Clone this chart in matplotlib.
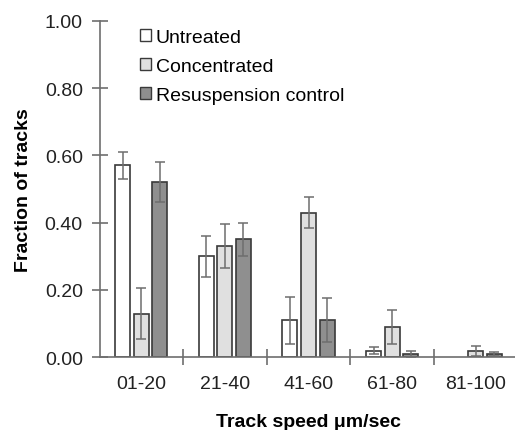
import numpy as np
import matplotlib
matplotlib.use("Agg")
import matplotlib.pyplot as plt
from matplotlib.patches import Patch

plt.rcParams['font.family'] = ['Liberation Sans', 'DejaVu Sans']

categories = ["01-20", "21-40", "41-60", "61-80", "81-100"]
series_names = ["Untreated", "Concentrated", "Resuspension control"]
untreated = [0.57, 0.30, 0.11, 0.02, np.nan]
untreated_err = [0.04, 0.06, 0.07, 0.01, 0.0]
concentrated = [0.13, 0.33, 0.43, 0.09, 0.02]
concentrated_err = [0.075, 0.065, 0.045, 0.05, 0.015]
resusp = [0.52, 0.35, 0.11, 0.01, 0.01]
resusp_err = [0.06, 0.05, 0.065, 0.01, 0.005]
yticks = [0.0, 0.2, 0.4, 0.6, 0.8, 1.0]

values = [untreated, concentrated, resusp]
errors = [untreated_err, concentrated_err, resusp_err]
fills = ["#ffffff", "#e0e0e0", "#8f8f8f"]

fig = plt.figure(figsize=(5.15, 4.31), dpi=100)
ax = fig.add_axes([99.5 / 515, 1 - 358.3 / 431, 418 / 515, (358.3 - 21.7) / 431])

x = np.arange(len(categories))
width = 0.18
step = 0.222
for i, (vals, errs, fc) in enumerate(zip(values, errors, fills)):
    pos = x + (i - 1) * step
    v = np.array(vals, dtype=float)
    e = np.array(errs, dtype=float)
    mask = ~np.isnan(v)
    ax.bar(pos[mask], v[mask], width=width, color=fc, edgecolor="#3a3a3a",
           linewidth=1.2, zorder=2)
    ax.errorbar(pos[mask], v[mask], yerr=e[mask], fmt="none", ecolor="#6e6e6e",
                elinewidth=1.1, capsize=3.5, capthick=1.1, zorder=3)

ax.set_xlim(-0.5, len(categories) - 0.5)
ax.set_ylim(0, 1.0)
ax.set_yticks(yticks)
ax.set_yticklabels([f"{t:.2f}" for t in yticks], fontsize=14, color="#222222")

# category labels centered, ticks at boundaries
ax.set_xticks(x)
ax.set_xticklabels(categories, fontsize=14, color="#222222")
ax.tick_params(axis="x", which="major", length=0, pad=13)
ax.set_xticks(np.arange(0.5, len(categories) - 0.5, 1.0), minor=True)
ax.tick_params(axis="x", which="minor", direction="inout", length=12,
               width=1.2, color="#6e6e6e")
ax.tick_params(axis="y", which="major", direction="inout", length=12,
               width=1.2, color="#6e6e6e", pad=6)

for s in ["top", "right"]:
    ax.spines[s].set_visible(False)
for s in ["left", "bottom"]:
    ax.spines[s].set_color("#6e6e6e")
    ax.spines[s].set_linewidth(1.2)
ax.spines["bottom"].set_clip_on(False)

ax.set_ylabel("Fraction of tracks", fontsize=14, fontweight="bold", labelpad=9)
ax.set_xlabel("Track speed \u03bcm/sec", fontsize=14, fontweight="bold", labelpad=15)

handles = [Patch(facecolor=fc, edgecolor="#3a3a3a", linewidth=1.0) for fc in fills]
ax.legend(handles, series_names, loc="upper left", bbox_to_anchor=(0.07, 1.01),
          frameon=False, fontsize=14, handlelength=0.55, handleheight=0.55,
          handletextpad=0.25, labelspacing=0.62, borderaxespad=0.2)

fig.savefig("out.png", dpi=100)
